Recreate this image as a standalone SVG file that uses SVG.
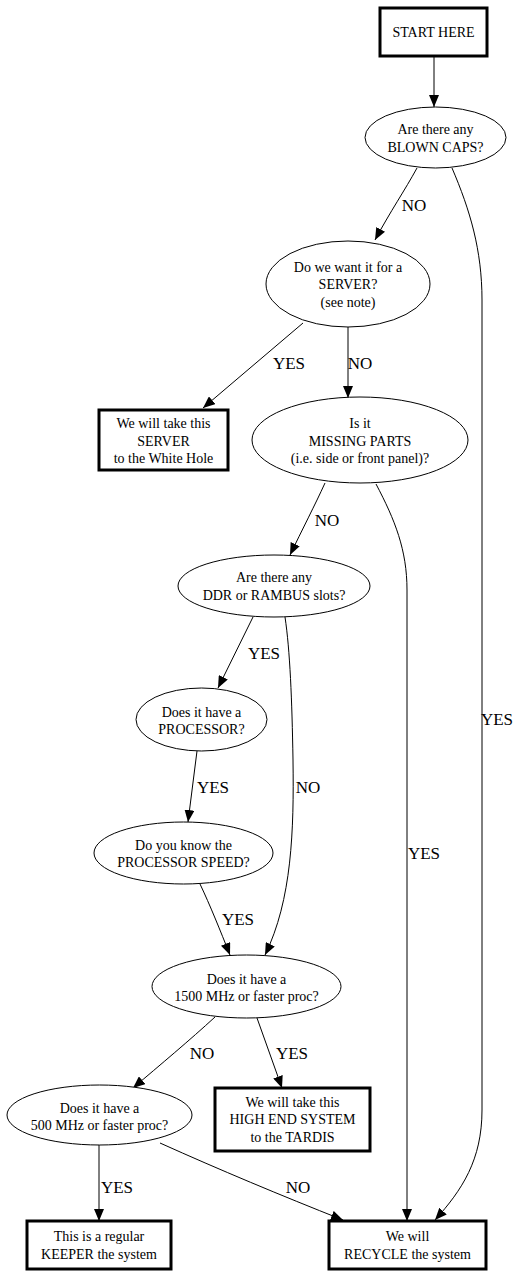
<svg xmlns="http://www.w3.org/2000/svg" width="524" height="1276" viewBox="0 0 524 1276">
<defs>
<style>
.box{fill:#fff;stroke:#000;stroke-width:3}
.ell{fill:#fff;stroke:#000;stroke-width:1}
.t{font-family:"Liberation Serif","Times New Roman",serif;font-size:14px;fill:#000;text-anchor:middle}
.lbl{font-family:"Liberation Serif","Times New Roman",serif;font-size:17px;fill:#000;text-anchor:middle}
.e{fill:none;stroke:#000;stroke-width:1;marker-end:url(#arr)}
</style>
<marker id="arr" viewBox="0 0 12 10" refX="12" refY="5" markerWidth="12" markerHeight="10" markerUnits="userSpaceOnUse" orient="auto">
<path d="M0,0 L12,5 L0,10 z" fill="#000"/>
</marker>
</defs>
<rect width="524" height="1276" fill="#fff"/>
<g id="connectors">
<path class="e" d="M434,56 L434,107"/>
<path class="e" d="M417,168 C405,190 390,212 375,240"/>
<path class="e" d="M452,168 C470,210 482,250 482,300 L482,1110 C482,1160 462,1190 435,1220"/>
<path class="e" d="M303,323 L203,408"/>
<path class="e" d="M348,327 L348,398"/>
<path class="e" d="M325,483 C315,505 302,530 290,555"/>
<path class="e" d="M376,484 C395,520 407,550 407,590 L407,1221"/>
<path class="e" d="M253,617 L218,688"/>
<path class="e" d="M285,617 C290,650 292,700 293,760 C294,830 292,900 265,955"/>
<path class="e" d="M197,751 L188,822"/>
<path class="e" d="M200,884 C210,905 220,930 230,955"/>
<path class="e" d="M215,1017 C190,1040 160,1065 133,1088"/>
<path class="e" d="M257,1018 L282,1088"/>
<path class="e" d="M99,1145 L99,1221"/>
<path class="e" d="M160,1143 C220,1170 280,1195 343,1220"/>
</g>
<g id="edge-labels">
<text class="lbl" x="414" y="211">NO</text>
<text class="lbl" x="497" y="725">YES</text>
<text class="lbl" x="289" y="369">YES</text>
<text class="lbl" x="360" y="369">NO</text>
<text class="lbl" x="327" y="526">NO</text>
<text class="lbl" x="424" y="859">YES</text>
<text class="lbl" x="264" y="659">YES</text>
<text class="lbl" x="308" y="793">NO</text>
<text class="lbl" x="213" y="793">YES</text>
<text class="lbl" x="238" y="925">YES</text>
<text class="lbl" x="202" y="1059">NO</text>
<text class="lbl" x="292" y="1059">YES</text>
<text class="lbl" x="117" y="1193">YES</text>
<text class="lbl" x="298" y="1193">NO</text>
</g>
<g id="start">
<rect class="box" x="380" y="8" width="107" height="48"/>
<text class="t" x="433.5" y="37">START HERE</text>
</g>
<g id="blowncaps">
<ellipse class="ell" cx="435.5" cy="137.5" rx="70.5" ry="30.5"/>
<text class="t" x="435.5" y="134">Are there any</text>
<text class="t" x="435.5" y="152">BLOWN CAPS?</text>
</g>
<g id="server">
<ellipse class="ell" cx="348" cy="284" rx="82" ry="43"/>
<text class="t" x="348" y="272">Do we want it for a</text>
<text class="t" x="348" y="289">SERVER?</text>
<text class="t" x="348" y="307">(see note)</text>
</g>
<g id="whitehole">
<rect class="box" x="99" y="410" width="129" height="60"/>
<text class="t" x="163.5" y="428">We will take this</text>
<text class="t" x="163.5" y="446">SERVER</text>
<text class="t" x="163.5" y="463">to the White Hole</text>
</g>
<g id="missing">
<ellipse class="ell" cx="360" cy="440" rx="108" ry="43"/>
<text class="t" x="360" y="428">Is it</text>
<text class="t" x="360" y="446">MISSING PARTS</text>
<text class="t" x="360" y="463">(i.e. side or front panel)?</text>
</g>
<g id="ddr">
<ellipse class="ell" cx="274" cy="586" rx="96" ry="31"/>
<text class="t" x="274" y="582">Are there any</text>
<text class="t" x="274" y="600">DDR or RAMBUS slots?</text>
</g>
<g id="processor">
<ellipse class="ell" cx="201.5" cy="719.5" rx="65.5" ry="31.5"/>
<text class="t" x="201.5" y="717">Does it have a</text>
<text class="t" x="201.5" y="734">PROCESSOR?</text>
</g>
<g id="speed">
<ellipse class="ell" cx="183.5" cy="853" rx="89.5" ry="31"/>
<text class="t" x="183.5" y="850">Do you know the</text>
<text class="t" x="183.5" y="867">PROCESSOR SPEED?</text>
</g>
<g id="mhz1500">
<ellipse class="ell" cx="246.5" cy="986.5" rx="94.5" ry="31.5"/>
<text class="t" x="246.5" y="984">Does it have a</text>
<text class="t" x="246.5" y="1001">1500 MHz or faster proc?</text>
</g>
<g id="highend">
<rect class="box" x="215" y="1088" width="155" height="63"/>
<text class="t" x="292.5" y="1107">We will take this</text>
<text class="t" x="292.5" y="1124">HIGH END SYSTEM</text>
<text class="t" x="292.5" y="1142">to the TARDIS</text>
</g>
<g id="mhz500">
<ellipse class="ell" cx="99.5" cy="1115" rx="92.5" ry="30"/>
<text class="t" x="99.5" y="1113">Does it have a</text>
<text class="t" x="99.5" y="1130">500 MHz or faster proc?</text>
</g>
<g id="keeper">
<rect class="box" x="27" y="1221" width="144" height="48"/>
<text class="t" x="99" y="1241">This is a regular</text>
<text class="t" x="99" y="1259">KEEPER the system</text>
</g>
<g id="recycle">
<rect class="box" x="329" y="1221" width="157" height="48"/>
<text class="t" x="407.5" y="1241">We will</text>
<text class="t" x="407.5" y="1259">RECYCLE the system</text>
</g>
</svg>
